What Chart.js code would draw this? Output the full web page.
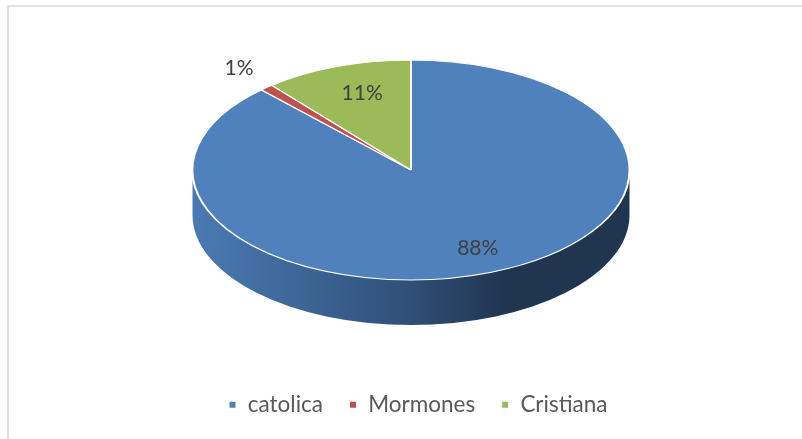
<!DOCTYPE html>
<html>
<head>
<meta charset="utf-8">
<script src="https://cdn.jsdelivr.net/npm/chart.js@4"></script>
<style>
  html, body { margin: 0; padding: 0; background: #fff; overflow: hidden; }
  #marco { position: absolute; left: 7px; top: 5px; right: 0; bottom: 0; border-left: 2px solid #e2e2e2; border-top: 2px solid #e2e2e2; }
  #grafico { position: absolute; left: 0; top: 0; }
</style>
</head>
<body>
<div id="marco"></div>
<canvas id="grafico" width="802" height="439"></canvas>
<script>
// Dados
const categorias = ["catolica", "Mormones", "Cristiana"];
const valores = [88, 1, 11];
const rotulos = ["88%", "1%", "11%"];
const cores = ["#4f81bd", "#c0504d", "#9bbb59"];

// Perspectiva da pizza
const raio = 218.5;
const centroY = 170;
const achatamento = 110 / 218.5;
const espessura = 45;

// Posição dos rótulos: fração do raio e ajuste em px
const fracaoRotulo = [0.83, 1.19, 0.7];
const ajusteRotulo = [[0, -7], [0, -4], [3, -4]];

// Parede lateral e achatamento das fatias
const pizza3d = {
  id: "pizza3d",
  afterLayout(chart) {
    // A legenda fica um pouco à direita do centro da pizza
    chart.legend.left += 7;
    chart.legend.right += 7;
  },
  beforeDatasetsDraw(chart) {
    const ctx = chart.ctx;
    const arco = chart.getDatasetMeta(0).data[0];
    const r = arco.outerRadius;
    const ry = r * achatamento;

    const grad = ctx.createLinearGradient(arco.x - r, 0, arco.x + r, 0);
    grad.addColorStop(0, "#4a7ab3");
    grad.addColorStop(0.22, "#3f689a");
    grad.addColorStop(0.5, "#2f4f76");
    grad.addColorStop(0.72, "#1f3550");
    grad.addColorStop(1, "#1f3550");

    ctx.save();
    ctx.beginPath();
    ctx.moveTo(arco.x - r, centroY);
    ctx.lineTo(arco.x - r, centroY + espessura);
    ctx.ellipse(arco.x, centroY + espessura, r, ry, 0, Math.PI, 0, true);
    ctx.lineTo(arco.x + r, centroY);
    ctx.closePath();
    ctx.fillStyle = grad;
    ctx.fill();
    ctx.restore();

    ctx.save();
    ctx.translate(0, centroY);
    ctx.scale(1, achatamento);
    ctx.translate(0, -arco.y);
  },
  afterDatasetsDraw(chart) {
    const ctx = chart.ctx;
    ctx.restore();

    // Rótulos de porcentagem
    ctx.save();
    ctx.font = '21px Lato, "Open Sans", sans-serif';
    ctx.fillStyle = "#404040";
    ctx.textAlign = "center";
    ctx.textBaseline = "middle";
    chart.getDatasetMeta(0).data.forEach((arco, i) => {
      const meio = (arco.startAngle + arco.endAngle) / 2;
      const f = fracaoRotulo[i] * arco.outerRadius;
      const x = arco.x + Math.cos(meio) * f + ajusteRotulo[i][0];
      const y = centroY + Math.sin(meio) * f * achatamento + ajusteRotulo[i][1];
      ctx.fillText(rotulos[i], x, y);
    });
    ctx.restore();
  }
};

new Chart(document.getElementById("grafico").getContext("2d"), {
  type: "pie",
  data: {
    labels: categorias,
    datasets: [{
      data: valores,
      backgroundColor: cores,
      borderColor: "#ffffff",
      borderWidth: 2,
      radius: raio
    }]
  },
  options: {
    responsive: false,
    animation: false,
    layout: { padding: { left: 20, bottom: 13 } },
    plugins: {
      tooltip: { enabled: false },
      legend: {
        position: "bottom",
        labels: {
          usePointStyle: true,
          pointStyle: "rect",
          boxWidth: 8,
          boxHeight: 8,
          padding: 26,
          color: "#595959",
          font: { family: 'Lato, "Open Sans", sans-serif', size: 22.5 }
        }
      }
    }
  },
  plugins: [pizza3d]
});
</script>
</body>
</html>
